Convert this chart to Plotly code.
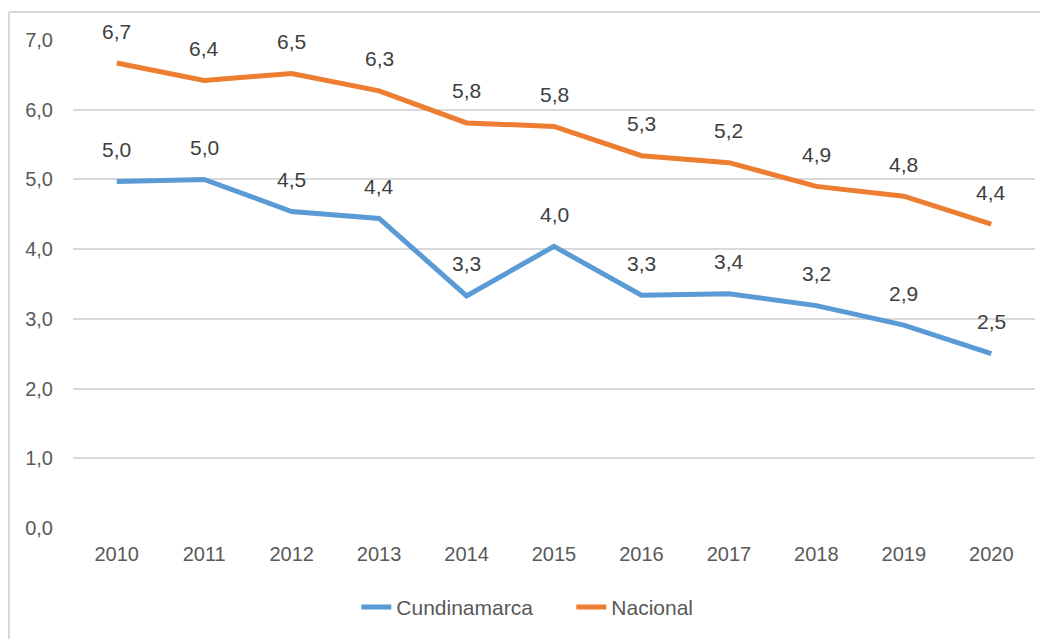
import plotly.graph_objects as go

years = ["2010", "2011", "2012", "2013", "2014", "2015", "2016", "2017", "2018", "2019", "2020"]
cundinamarca = [4.97, 5.00, 4.54, 4.44, 3.33, 4.04, 3.34, 3.36, 3.19, 2.91, 2.50]
nacional = [6.67, 6.42, 6.52, 6.27, 5.81, 5.76, 5.34, 5.24, 4.90, 4.76, 4.36]
y_ticks = [0, 1, 2, 3, 4, 5, 6, 7]

FONT = "Liberation Sans, Arial, sans-serif"
BLUE = "#5B9BD5"
ORANGE = "#ED7D31"

fig = go.Figure()
fig.add_trace(go.Scatter(x=years, y=cundinamarca, mode="lines", name="Cundinamarca",
                         line=dict(color=BLUE, width=5)))
fig.add_trace(go.Scatter(x=years, y=nacional, mode="lines", name="Nacional",
                         line=dict(color=ORANGE, width=5)))

for series in (cundinamarca, nacional):
    for i, v in enumerate(series):
        fig.add_annotation(x=i, y=v, xref="x", yref="y", text=f"{v:.1f}".replace(".", ","),
                           showarrow=False, yshift=32,
                           font=dict(family=FONT, size=21, color="#404040"))

W, H = 1040, 631
L, R, T, B = 65, 13, 32, 110
pw, ph = W - L - R, H - T - B

fig.update_layout(
    width=W, height=H,
    margin=dict(l=L, r=R, t=T, b=B),
    paper_bgcolor="white", plot_bgcolor="white",
    font=dict(family=FONT, size=20, color="#595959"),
    separators=",.",
    showlegend=True,
    legend=dict(orientation="h", x=0.518, xanchor="center", y=-0.16, yanchor="middle",
                font=dict(family=FONT, size=21, color="#595959"),
                entrywidth=170, entrywidthmode="pixels"),
    xaxis=dict(type="category", range=[-0.5, 10.5], showgrid=False, showline=False,
               zeroline=False, ticks="", tickfont=dict(size=20), ticklabelstandoff=12),
    yaxis=dict(range=[0, 7], tickvals=y_ticks, tickformat=".1f", showgrid=True,
               gridcolor="#D9D9D9", gridwidth=2, zeroline=False, showline=False,
               ticks="", tickfont=dict(size=20), ticklabelstandoff=19),
    shapes=[
        dict(type="line", xref="paper", yref="paper", x0=-(L - 1) / pw, x1=(W - L + 5) / pw,
             y0=(ph + T - 4) / ph, y1=(ph + T - 4) / ph, line=dict(color="#D9D9D9", width=2)),
        dict(type="line", xref="paper", yref="paper", x0=-(L - 1) / pw, x1=-(L - 1) / pw,
             y0=(ph + T - 4) / ph, y1=-(B + 5) / ph, line=dict(color="#D9D9D9", width=2)),
    ],
)

fig.write_html("out.html")
